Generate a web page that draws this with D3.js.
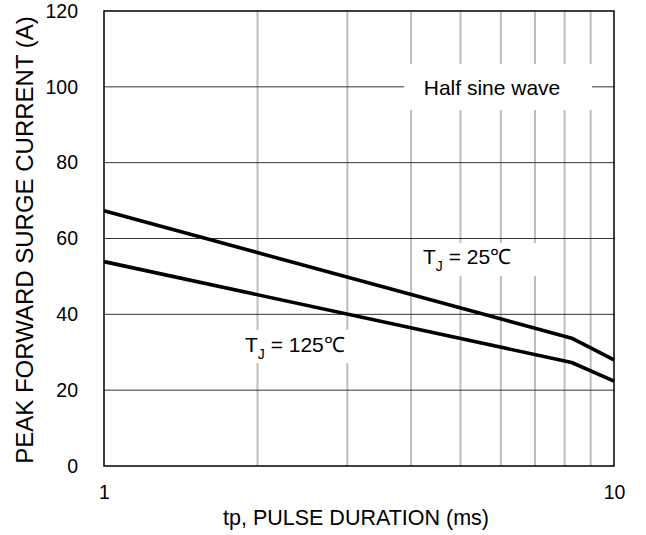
<!DOCTYPE html>
<html>
<head>
<meta charset="utf-8">
<script src="https://cdn.jsdelivr.net/npm/d3@7"></script>
<style>
  html, body { margin: 0; padding: 0; background: #fff; }
  svg text { font-family: "Liberation Sans", Arial, sans-serif; fill: #000; }
</style>
</head>
<body>
<svg id="chart" width="646" height="535"></svg>
<script>
// ---- data ----
const pulseDuration = [1, 8.26, 10];          // ms
const current25 = [67.3, 33.7, 28.0];         // A, TJ = 25°C
const current125 = [53.9, 27.3, 22.4];        // A, TJ = 125°C
const xTicks = [1, 10];
const xGrid = [2, 3, 4, 5, 6, 7, 8, 9];
const yTicks = [0, 20, 40, 60, 80, 100, 120];

const svg = d3.select("#chart");
const margin = { left: 104, right: 32, top: 11, bottom: 69 };
const W = 646, H = 535;
const x = d3.scaleLog().domain([1, 10]).range([margin.left, W - margin.right]);
const y = d3.scaleLinear().domain([0, 120]).range([H - margin.bottom, margin.top]);

// vertical grid (light gray)
svg.append("g")
  .selectAll("line").data(xGrid).join("line")
  .attr("x1", d => x(d)).attr("x2", d => x(d))
  .attr("y1", y(0)).attr("y2", y(120))
  .attr("stroke", "#bdbdbd").attr("stroke-width", 2);

// horizontal grid (dark)
svg.append("g")
  .selectAll("line").data(yTicks.filter(d => d > 0 && d < 120)).join("line")
  .attr("x1", x(1)).attr("x2", x(10))
  .attr("y1", d => y(d)).attr("y2", d => y(d))
  .attr("stroke", "#333").attr("stroke-width", 1);

// white label boxes
const boxes = [
  { x0: 404, x1: 592, y0: 64, y1: 110 },
  { x0: 414, x1: 539, y0: 243, y1: 276 },
  { x0: 236, x1: 356, y0: 330, y1: 363 }
];
svg.append("g").selectAll("rect").data(boxes).join("rect")
  .attr("x", d => d.x0).attr("y", d => d.y0)
  .attr("width", d => d.x1 - d.x0).attr("height", d => d.y1 - d.y0)
  .attr("fill", "#fff");

// frame
svg.append("rect")
  .attr("x", x(1)).attr("y", y(120))
  .attr("width", x(10) - x(1)).attr("height", y(0) - y(120))
  .attr("fill", "none").attr("stroke", "#000").attr("stroke-width", 1.5);

// x axis (log)
const xAxis = d3.axisBottom(x).tickValues(xTicks).tickFormat(d3.format("d")).tickSize(0).tickPadding(19);
svg.append("g").attr("transform", `translate(0,${y(0)})`).call(xAxis)
  .call(g => g.select(".domain").remove())
  .selectAll("text").style("font-size", "19.5px")
  .attr("font-family", "Liberation Sans, Arial, sans-serif");

// y axis
const yAxis = d3.axisLeft(y).tickValues(yTicks).tickSize(0).tickPadding(26);
svg.append("g").attr("transform", `translate(${x(1)},0)`).call(yAxis)
  .call(g => g.select(".domain").remove())
  .selectAll("text").style("font-size", "19.5px")
  .attr("font-family", "Liberation Sans, Arial, sans-serif");

// curves
const line = d3.line().x(d => x(d[0])).y(d => y(d[1]));
[current25, current125].forEach(series => {
  svg.append("path")
    .datum(pulseDuration.map((p, i) => [p, series[i]]))
    .attr("d", line)
    .attr("fill", "none").attr("stroke", "#000")
    .attr("stroke-width", 3.6).attr("stroke-linejoin", "round");
});

// axis titles
svg.append("text")
  .attr("x", 356).attr("y", 525)
  .attr("text-anchor", "middle").style("font-size", "21.5px")
  .text("tp, PULSE DURATION (ms)");

svg.append("text")
  .attr("transform", "translate(33,240) rotate(-90)")
  .attr("text-anchor", "middle").style("font-size", "24px")
  .text("PEAK FORWARD SURGE CURRENT (A)");

// annotations
svg.append("text")
  .attr("x", 492).attr("y", 95)
  .attr("text-anchor", "middle").style("font-size", "21px")
  .text("Half sine wave");

function tjLabel(px, py, temp) {
  const t = svg.append("text").attr("x", px).attr("y", py).style("font-size", "21px");
  t.append("tspan").text("T");
  t.append("tspan").attr("dy", 7).style("font-size", "14px").text("J");
  t.append("tspan").attr("dy", -7).text(" = " + temp + "℃");
}
tjLabel(423, 264, "25");
tjLabel(245, 352, "125");
</script>
</body>
</html>
